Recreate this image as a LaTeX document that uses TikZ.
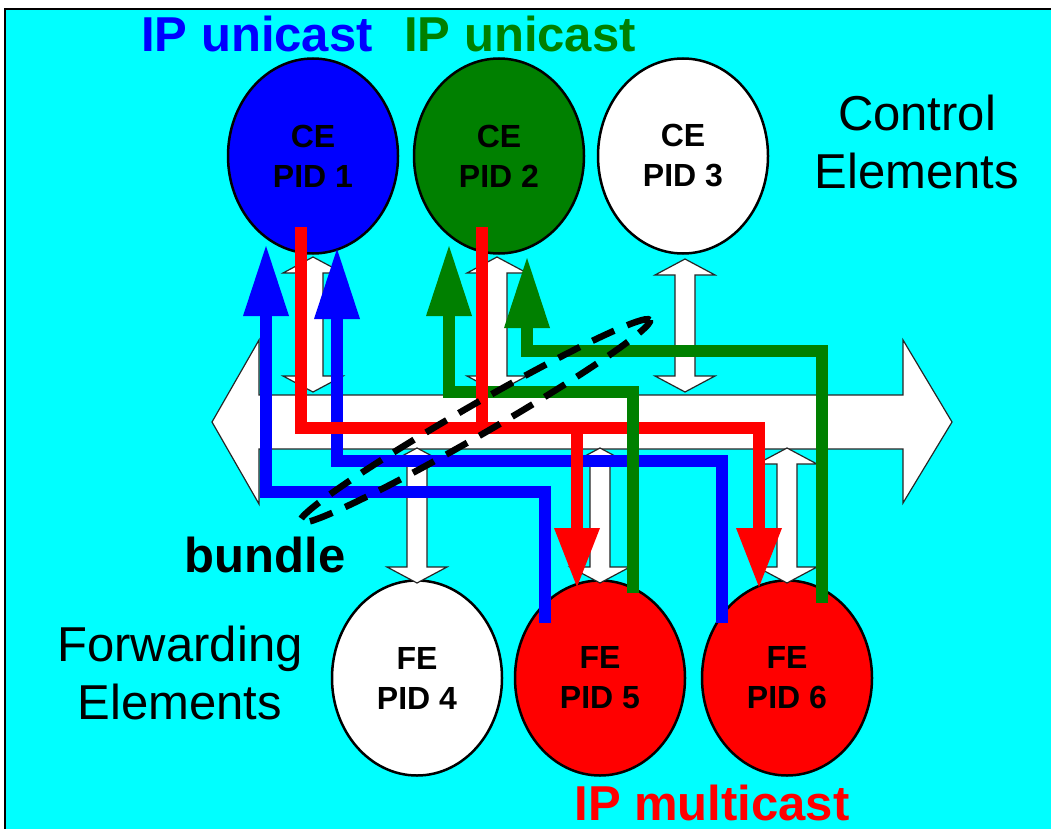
\documentclass[tikz,border=0pt]{standalone}
\usepackage{fontspec}
\setmainfont{Liberation Sans}
\usetikzlibrary{arrows.meta,shapes.geometric}

\definecolor{bgcyan}{RGB}{0,255,255}
\definecolor{ceblue}{RGB}{0,0,255}
\definecolor{cegreen}{RGB}{0,128,0}
\definecolor{fered}{RGB}{255,0,0}

\tikzset{
  elem/.style={ellipse, draw=black, line width=2.5pt, minimum width=170pt,
    minimum height=195pt, inner sep=0pt, align=center,
    font=\bfseries\fontsize{32}{40}\selectfont},
  bigtxt/.style={inner sep=0pt, align=center, font=\fontsize{49}{58}\selectfont},
  boldtxt/.style={inner sep=0pt, anchor=base, font=\bfseries\fontsize{49}{58}\selectfont},
  whitearrow/.style={draw=black!85, line width=1.2pt, fill=white, line join=miter},
  wire/.style={line width=12pt, line join=miter, line cap=butt},
  uptip/.style={-{Triangle[length=70pt,width=46pt,line width=0pt]}},
  downtip/.style={-{Triangle[length=59pt,width=46pt,line width=0pt]}},
  bundleline/.style={draw=black, line width=6.5pt, dash pattern=on 24pt off 14pt}
}

% white two-headed link between an element and the bus: x, top tip y, bottom tip y
\newcommand\vlink[3]{%
  \draw[whitearrow] (#1,#2) -- (#1+30,#2+16) -- (#1+10,#2+16) -- (#1+10,#3-16)
    -- (#1+30,#3-16) -- (#1,#3) -- (#1-30,#3-16) -- (#1-10,#3-16)
    -- (#1-10,#2+16) -- (#1-30,#2+16) -- cycle;}

\begin{document}
\begin{tikzpicture}[x=1pt,y=-1pt]
\useasboundingbox (0,0) rectangle (1051,829);
\clip (0,0) rectangle (1051,829);
\fill[white] (0,0) rectangle (1051,829);
\draw[fill=bgcyan, line width=2pt] (5,9) rectangle (1090,870);

% element nodes
\node[elem, fill=ceblue]  (ce1) at (313,156) {CE\\PID 1};
\node[elem, fill=cegreen] (ce2) at (499,156) {CE\\PID 2};
\node[elem, fill=white]   (ce3) at (683,156) {CE\\PID 3};
\node[elem, fill=white]   (fe4) at (417,678) {FE\\PID 4};
\node[elem, fill=fered]   (fe5) at (600,678) {FE\\PID 5};
\node[elem, fill=fered]   (fe6) at (787,678) {FE\\PID 6};

% the bus
\coordinate (busL) at (212,422);
\coordinate (busR) at (952,422);
\draw[whitearrow] (busL) -- (259,340) -- (259,395) -- (903,395) -- (903,340)
  -- (busR) -- (903,503) -- (903,449) -- (259,449) -- (259,504) -- cycle;

% element to bus links
\vlink{313}{257}{392}
\vlink{497}{257}{392}
\vlink{685}{259}{392}
\vlink{417}{448}{583}
\vlink{600}{448}{583}
\vlink{787}{448}{583}

% path end points
\coordinate (b1s) at (545,623);  \coordinate (b1t) at (266,246);
\coordinate (b2s) at (722,623);  \coordinate (b2t) at (337,249);
\coordinate (g1s) at (633,593);  \coordinate (g1t) at (449,246);
\coordinate (g2s) at (822,603);  \coordinate (g2t) at (527,258);
\coordinate (r1s) at (301,227);  \coordinate (r2s) at (482,227);
\coordinate (r5t) at (577,587);  \coordinate (r6t) at (759,587);
\coordinate (rj)  at (577,428);  \coordinate (rk)  at (482,428);

% unicast paths
\draw[wire, ceblue, uptip] (b1s) |- (266,492) -- (b1t);
\draw[wire, ceblue, uptip] (b2s) |- (337,461) -- (b2t);
\draw[wire, cegreen, uptip] (g2s) |- (527,351) -- (g2t);
\draw[wire, cegreen, uptip] (g1s) |- (449,392) -- (g1t);

% multicast tree
\draw[wire, fered, downtip] (r1s) |- (759,428) -- (r6t);
\draw[wire, fered, downtip] (rj) -- (r5t);
\draw[wire, fered] (r2s) -- (rk);

% green riser passes over the multicast tree
\draw[wire, cegreen] (g1s) -- (633,412);

% bundle
\draw[bundleline] (475,421) ellipse [x radius=202pt, y radius=15pt, rotate=30];

% labels
\node[boldtxt, text=ceblue]  (lu1) at (257,52) {IP unicast};
\node[boldtxt, text=cegreen] (lu2) at (520,52) {IP unicast};
\node[boldtxt, text=fered]   (lmc) at (712,820) {IP multicast};
\node[boldtxt] (lbd) at (265,572) {bundle};
\node[bigtxt] (lce) at (917,142) {Control\\Elements};
\node[bigtxt] (lfe) at (180,673) {Forwarding\\Elements};
\end{tikzpicture}
\end{document}
